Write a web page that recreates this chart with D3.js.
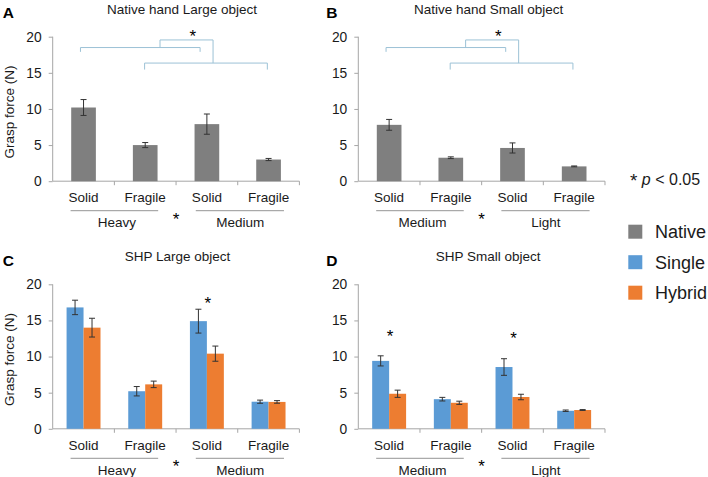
<!DOCTYPE html>
<html><head><meta charset="utf-8">
<script src="https://cdn.jsdelivr.net/npm/d3@7"></script>
<style>body{margin:0;background:#fff}svg{display:block;font-family:Arial,"Liberation Sans",sans-serif}</style>
</head><body><svg id="c" width="708" height="477"></svg>
<script>
// ---- data ----
const categories = ["Solid", "Fragile", "Solid", "Fragile"];
const groupsLarge = ["Heavy", "Medium"];
const groupsSmall = ["Medium", "Light"];
const yTicks = [0, 5, 10, 15, 20];
const seriesNames = ["Native", "Single", "Hybrid"];
const nativeLarge = [10.2, 5.0, 7.9, 3.0];
const nativeLargeErr = [1.1, 0.35, 1.4, 0.15];
const nativeSmall = [7.8, 3.25, 4.6, 2.05];
const nativeSmallErr = [0.75, 0.12, 0.7, 0.06];
const shpLargeSingle = [16.8, 5.2, 14.9, 3.75];
const shpLargeSingleErr = [1.0, 0.65, 1.65, 0.22];
const shpLargeHybrid = [14.0, 6.15, 10.4, 3.72];
const shpLargeHybridErr = [1.3, 0.45, 1.05, 0.18];
const shpSmallSingle = [9.4, 4.1, 8.55, 2.5];
const shpSmallSingleErr = [0.7, 0.25, 1.15, 0.1];
const shpSmallHybrid = [4.85, 3.6, 4.4, 2.6];
const shpSmallHybridErr = [0.5, 0.22, 0.38, 0.06];

const colors = {Native: "#7f7f7f", Single: "#5b9bd5", Hybrid: "#ed7d31"};
const svg = d3.select("#c");
const txt = "#1a1a1a", axisCol = "#a6a6a6", brCol = "#9cc2d6";

const panels = [
  {letter: "A", title: "Native hand Large object", left: 52.7, top: 36.7, groups: groupsLarge, ylabel: true, tdx: 6,
   series: [{name: "Native", v: nativeLarge, e: nativeLargeErr}], brackets: true, stars: []},
  {letter: "B", title: "Native hand Small object", left: 358.3, top: 36.7, groups: groupsSmall, ylabel: false, tdx: 7,
   series: [{name: "Native", v: nativeSmall, e: nativeSmallErr}], brackets: true, stars: []},
  {letter: "C", title: "SHP Large object", left: 52.7, top: 284.3, groups: groupsLarge, ylabel: true, tdx: 1.5,
   series: [{name: "Single", v: shpLargeSingle, e: shpLargeSingleErr}, {name: "Hybrid", v: shpLargeHybrid, e: shpLargeHybridErr}],
   brackets: false, stars: [{i: 2, y: 17.8}]},
  {letter: "D", title: "SHP Small object", left: 358.3, top: 284.3, groups: groupsSmall, ylabel: false, tdx: 6.5,
   series: [{name: "Single", v: shpSmallSingle, e: shpSmallSingleErr}, {name: "Hybrid", v: shpSmallHybrid, e: shpSmallHybridErr}],
   brackets: false, stars: [{i: 0, y: 13.3}, {i: 2, y: 13.0}]}
];

const W = 246.7, H = 144.5;

panels.forEach(p => {
  const g = svg.append("g").attr("transform", `translate(${p.left},${p.top})`);
  const x = d3.scaleBand().domain(d3.range(categories.length)).range([0, W]).padding(0);
  const xi = d3.scaleLinear().domain([0, categories.length]).range([0, W]);
  const y = d3.scaleLinear().domain([0, 20]).range([H, 0]);
  const single = p.series.length === 1;
  const x1 = d3.scaleBand().domain(p.series.map(s => s.name))
    .range(single ? [x.bandwidth() * 0.3, x.bandwidth() * 0.7] : [x.bandwidth() * 0.225, x.bandwidth() * 0.775]).padding(0);

  // title + letter
  g.append("text").attr("x", W / 2 + p.tdx).attr("y", -23).attr("text-anchor", "middle")
    .attr("font-size", 13.5).attr("fill", txt).text(p.title);
  g.append("text").attr("x", p.left < 100 ? -50 : -32).attr("y", -18.5).attr("font-size", 15.5)
    .attr("font-weight", "bold").attr("fill", "#000").text(p.letter);

  // y axis
  const ya = g.append("g").call(d3.axisLeft(y).tickValues(yTicks).tickSize(4).tickPadding(7).tickFormat(d3.format("d")));
  ya.select(".domain").attr("d", `M0,${H}V0`).attr("stroke", axisCol);
  ya.selectAll(".tick line").attr("stroke", axisCol);
  ya.selectAll(".tick text").attr("font-size", 13.8).attr("fill", txt).attr("font-family", "Arial, Liberation Sans, sans-serif");
  if (p.ylabel) {
    g.append("text").attr("transform", `translate(-38.5,${H / 2 + 3}) rotate(-90)`).attr("text-anchor", "middle")
      .attr("font-size", 13.5).attr("fill", txt).text("Grasp force (N)");
  }

  // x axis
  const xa = g.append("g").attr("transform", `translate(0,${H})`);
  xa.append("path").attr("d", `M0,0H${W}`).attr("stroke", axisCol).attr("fill", "none");
  xa.selectAll("line.t").data(d3.range(1, categories.length + 1)).join("line")
    .attr("x1", d => xi(d)).attr("x2", d => xi(d)).attr("y1", 0).attr("y2", 4).attr("stroke", axisCol);
  xa.selectAll("text.cat").data(categories).join("text").attr("class", "cat")
    .attr("x", (d, i) => x(i) + x.bandwidth() / 2).attr("y", 21).attr("text-anchor", "middle")
    .attr("font-size", 13.5).attr("fill", txt).text(d => d);
  // groups
  const grpLine = [[0.29, 1.71], [2.32, 3.75]];
  p.groups.forEach((gn, k) => {
    xa.append("line").attr("x1", xi(grpLine[k][0])).attr("x2", xi(grpLine[k][1])).attr("y1", 29.5).attr("y2", 29.5)
      .attr("stroke", "#7a7a7a").attr("stroke-width", 0.8);
    xa.append("text").attr("x", xi(k * 2 + 1.04)).attr("y", 46).attr("text-anchor", "middle")
      .attr("font-size", 13.5).attr("fill", txt).text(gn);
  });
  xa.append("text").attr("x", xi(2)).attr("y", 43.5).attr("text-anchor", "middle").attr("font-size", 17)
    .attr("fill", "#000").text("*");

  // bars
  p.series.forEach(s => {
    const bg = g.append("g");
    bg.selectAll("rect").data(s.v).join("rect")
      .attr("x", (d, i) => x(i) + x1(s.name)).attr("width", x1.bandwidth())
      .attr("y", d => y(d)).attr("height", d => H - y(d)).attr("fill", colors[s.name]);
    const eb = bg.selectAll("g.e").data(s.v).join("g")
      .attr("transform", (d, i) => `translate(${x(i) + x1(s.name) + x1.bandwidth() / 2},0)`)
      .attr("stroke", "#333").attr("stroke-width", 1);
    eb.append("line").attr("y1", (d, i) => y(d + s.e[i])).attr("y2", (d, i) => y(d - s.e[i]));
    eb.append("line").attr("x1", -3).attr("x2", 3).attr("y1", (d, i) => y(d + s.e[i])).attr("y2", (d, i) => y(d + s.e[i]));
    eb.append("line").attr("x1", -3).attr("x2", 3).attr("y1", (d, i) => y(d - s.e[i])).attr("y2", (d, i) => y(d - s.e[i]));
  });

  // significance stars over bars
  p.stars.forEach(st => {
    g.append("text").attr("x", x(st.i) + x.bandwidth() / 2 + 1).attr("y", y(st.y) + 9).attr("text-anchor", "middle")
      .attr("font-size", 17).attr("fill", "#000").text("*");
  });

  // brackets
  if (p.brackets) {
    const b1 = {a: 0.45, b: 2.39, yy: 18.5, end: 17.9, stem: 1.74};
    const b2 = {a: 1.49, b: 3.48, yy: 16.35, end: 15.45, stem: 2.60};
    const top = 19.55;
    const br = g.append("g").attr("fill", "none").attr("stroke", brCol).attr("stroke-width", 1);
    [b1, b2].forEach(b => {
      br.append("path").attr("d", `M${xi(b.a)},${y(b.end)}V${y(b.yy)}H${xi(b.b)}V${y(b.end)}`);
    });
    br.append("path").attr("d", `M${xi(b1.stem)},${y(b1.yy)}V${y(top)}H${xi(b2.stem)}V${y(b2.yy)}`);
    g.append("text").attr("x", xi(2.27)).attr("y", y(20.45) + 9).attr("text-anchor", "middle")
      .attr("font-size", 17).attr("fill", "#000").text("*");
  }
});

// legend
const lg = svg.append("g");
const pt = lg.append("text").attr("x", 630).attr("y", 185).attr("font-size", 16).attr("fill", txt);
pt.append("tspan").attr("font-size", 19).attr("dy", 2).text("*");
pt.append("tspan").attr("dy", -2).text(" ");
pt.append("tspan").attr("font-style", "italic").text("p");
pt.append("tspan").text(" < 0.05");
const ly = d3.scalePoint().domain(seriesNames).range([231.7, 292.7]);
lg.selectAll("rect").data(seriesNames).join("rect")
  .attr("x", 628.3).attr("y", d => ly(d) - 7).attr("width", 14).attr("height", 14).attr("fill", d => colors[d]);
lg.selectAll("text.l").data(seriesNames).join("text").attr("class", "l")
  .attr("x", 655).attr("y", d => ly(d) + 6.5).attr("font-size", 18).attr("fill", txt).text(d => d);
</script></body></html>
